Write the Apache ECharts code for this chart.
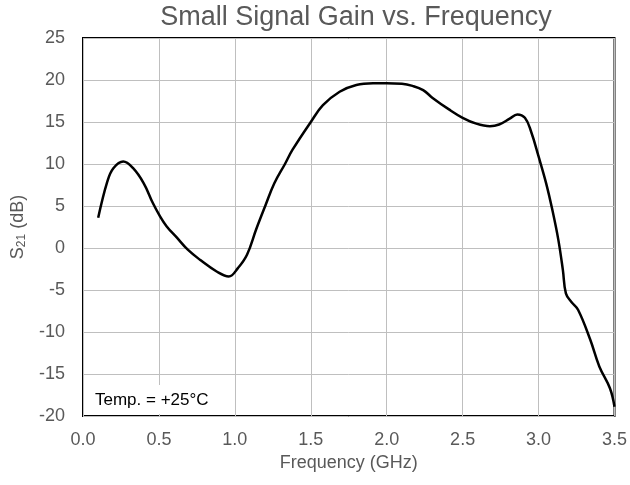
<!DOCTYPE html>
<html>
<head>
<meta charset="utf-8">
<script src="https://cdn.jsdelivr.net/npm/echarts@6/dist/echarts.min.js"></script>
<style>
html,body{margin:0;padding:0;background:#fff;}
#chart{width:630px;height:485px;}
</style>
</head>
<body>
<div id="chart"></div>
<script>
var freqGHz = [0.10, 0.16, 0.20, 0.265, 0.33, 0.40, 0.46, 0.50, 0.55, 0.62, 0.69, 0.77, 0.88, 0.96, 1.02, 1.08, 1.14, 1.20, 1.26, 1.33, 1.38, 1.50, 1.58, 1.69, 1.80, 1.91, 2.00, 2.10, 2.17, 2.24, 2.30, 2.41, 2.50, 2.59, 2.68, 2.74, 2.81, 2.86, 2.91, 2.95, 3.00, 3.05, 3.09, 3.13, 3.16, 3.18, 3.215, 3.26, 3.34, 3.40, 3.47, 3.50];
var s21dB = [3.6, 7.9, 9.5, 10.3, 9.5, 7.7, 5.35, 4.0, 2.6, 1.2, -0.2, -1.4, -2.8, -3.4, -2.4, -0.8, 2.2, 5.0, 7.7, 10.0, 11.7, 15.0, 17.0, 18.6, 19.4, 19.6, 19.6, 19.55, 19.3, 18.8, 17.9, 16.5, 15.5, 14.8, 14.5, 14.7, 15.4, 15.9, 15.5, 13.9, 10.9, 7.7, 4.6, 1.0, -2.6, -5.4, -6.4, -7.35, -10.9, -14.1, -16.7, -18.9];
var titleText = 'Small Signal Gain vs. Frequency';
var xAxisName = 'Frequency (GHz)';
var noteText = 'Temp. = +25°C';

var points = freqGHz.map(function (f, i) { return [f, s21dB[i]]; });
var FONT = '"Liberation Sans", Arial, sans-serif';

var chart = echarts.init(document.getElementById('chart'));
chart.setOption({
  backgroundColor: '#fff',
  animation: false,
  grid: {
    left: 83, right: 15, top: 38, bottom: 69,
    show: true, borderColor: '#000', borderWidth: 2, backgroundColor: 'transparent'
  },
  xAxis: {
    type: 'value', min: 0, max: 3.5, interval: 0.5,
    name: xAxisName, nameLocation: 'middle', nameGap: 37,
    nameTextStyle: { fontSize: 18, color: '#595959', fontFamily: FONT },
    axisLine: { show: false }, axisTick: { show: false },
    axisLabel: { fontSize: 18, color: '#595959', fontFamily: FONT, margin: 15,
      formatter: function (v) { return v.toFixed(1); } },
    splitLine: { show: true, lineStyle: { color: '#bfbfbf', width: 1 } }
  },
  yAxis: {
    type: 'value', min: -20, max: 25, interval: 5,
    name: '{a|S}{b|21}{a| (dB)}', nameLocation: 'middle', nameGap: 52,
    nameTextStyle: {
      color: '#595959', fontFamily: FONT,
      rich: {
        a: { fontSize: 18, color: '#595959', fontFamily: FONT, lineHeight: 22 },
        b: { fontSize: 12, color: '#595959', fontFamily: FONT, lineHeight: 22, padding: [8, 0, 0, 0] }
      }
    },
    axisLine: { show: false }, axisTick: { show: false },
    axisLabel: { fontSize: 18, color: '#595959', fontFamily: FONT, margin: 18 },
    splitLine: { show: true, lineStyle: { color: '#bfbfbf', width: 1 } }
  },
  graphic: [
    { type: 'text', x: 356, y: 18, z: 10,
      style: { text: titleText, fontSize: 27, fill: '#595959', fontFamily: FONT,
        textAlign: 'center', textVerticalAlign: 'middle' } },
    { type: 'rect', x: 86, y: 385, z: 5, shape: { width: 138, height: 29 },
      style: { fill: '#fff' } },
    { type: 'text', x: 95, y: 400, z: 10,
      style: { text: noteText, fontSize: 17, fill: '#000', fontFamily: FONT,
        textAlign: 'left', textVerticalAlign: 'middle' } }
  ],
  series: [{
    type: 'line', data: points, smooth: 0.4, showSymbol: false, symbol: 'none',
    lineStyle: { color: '#000', width: 2.5 }, z: 3
  }]
});
</script>
</body>
</html>
